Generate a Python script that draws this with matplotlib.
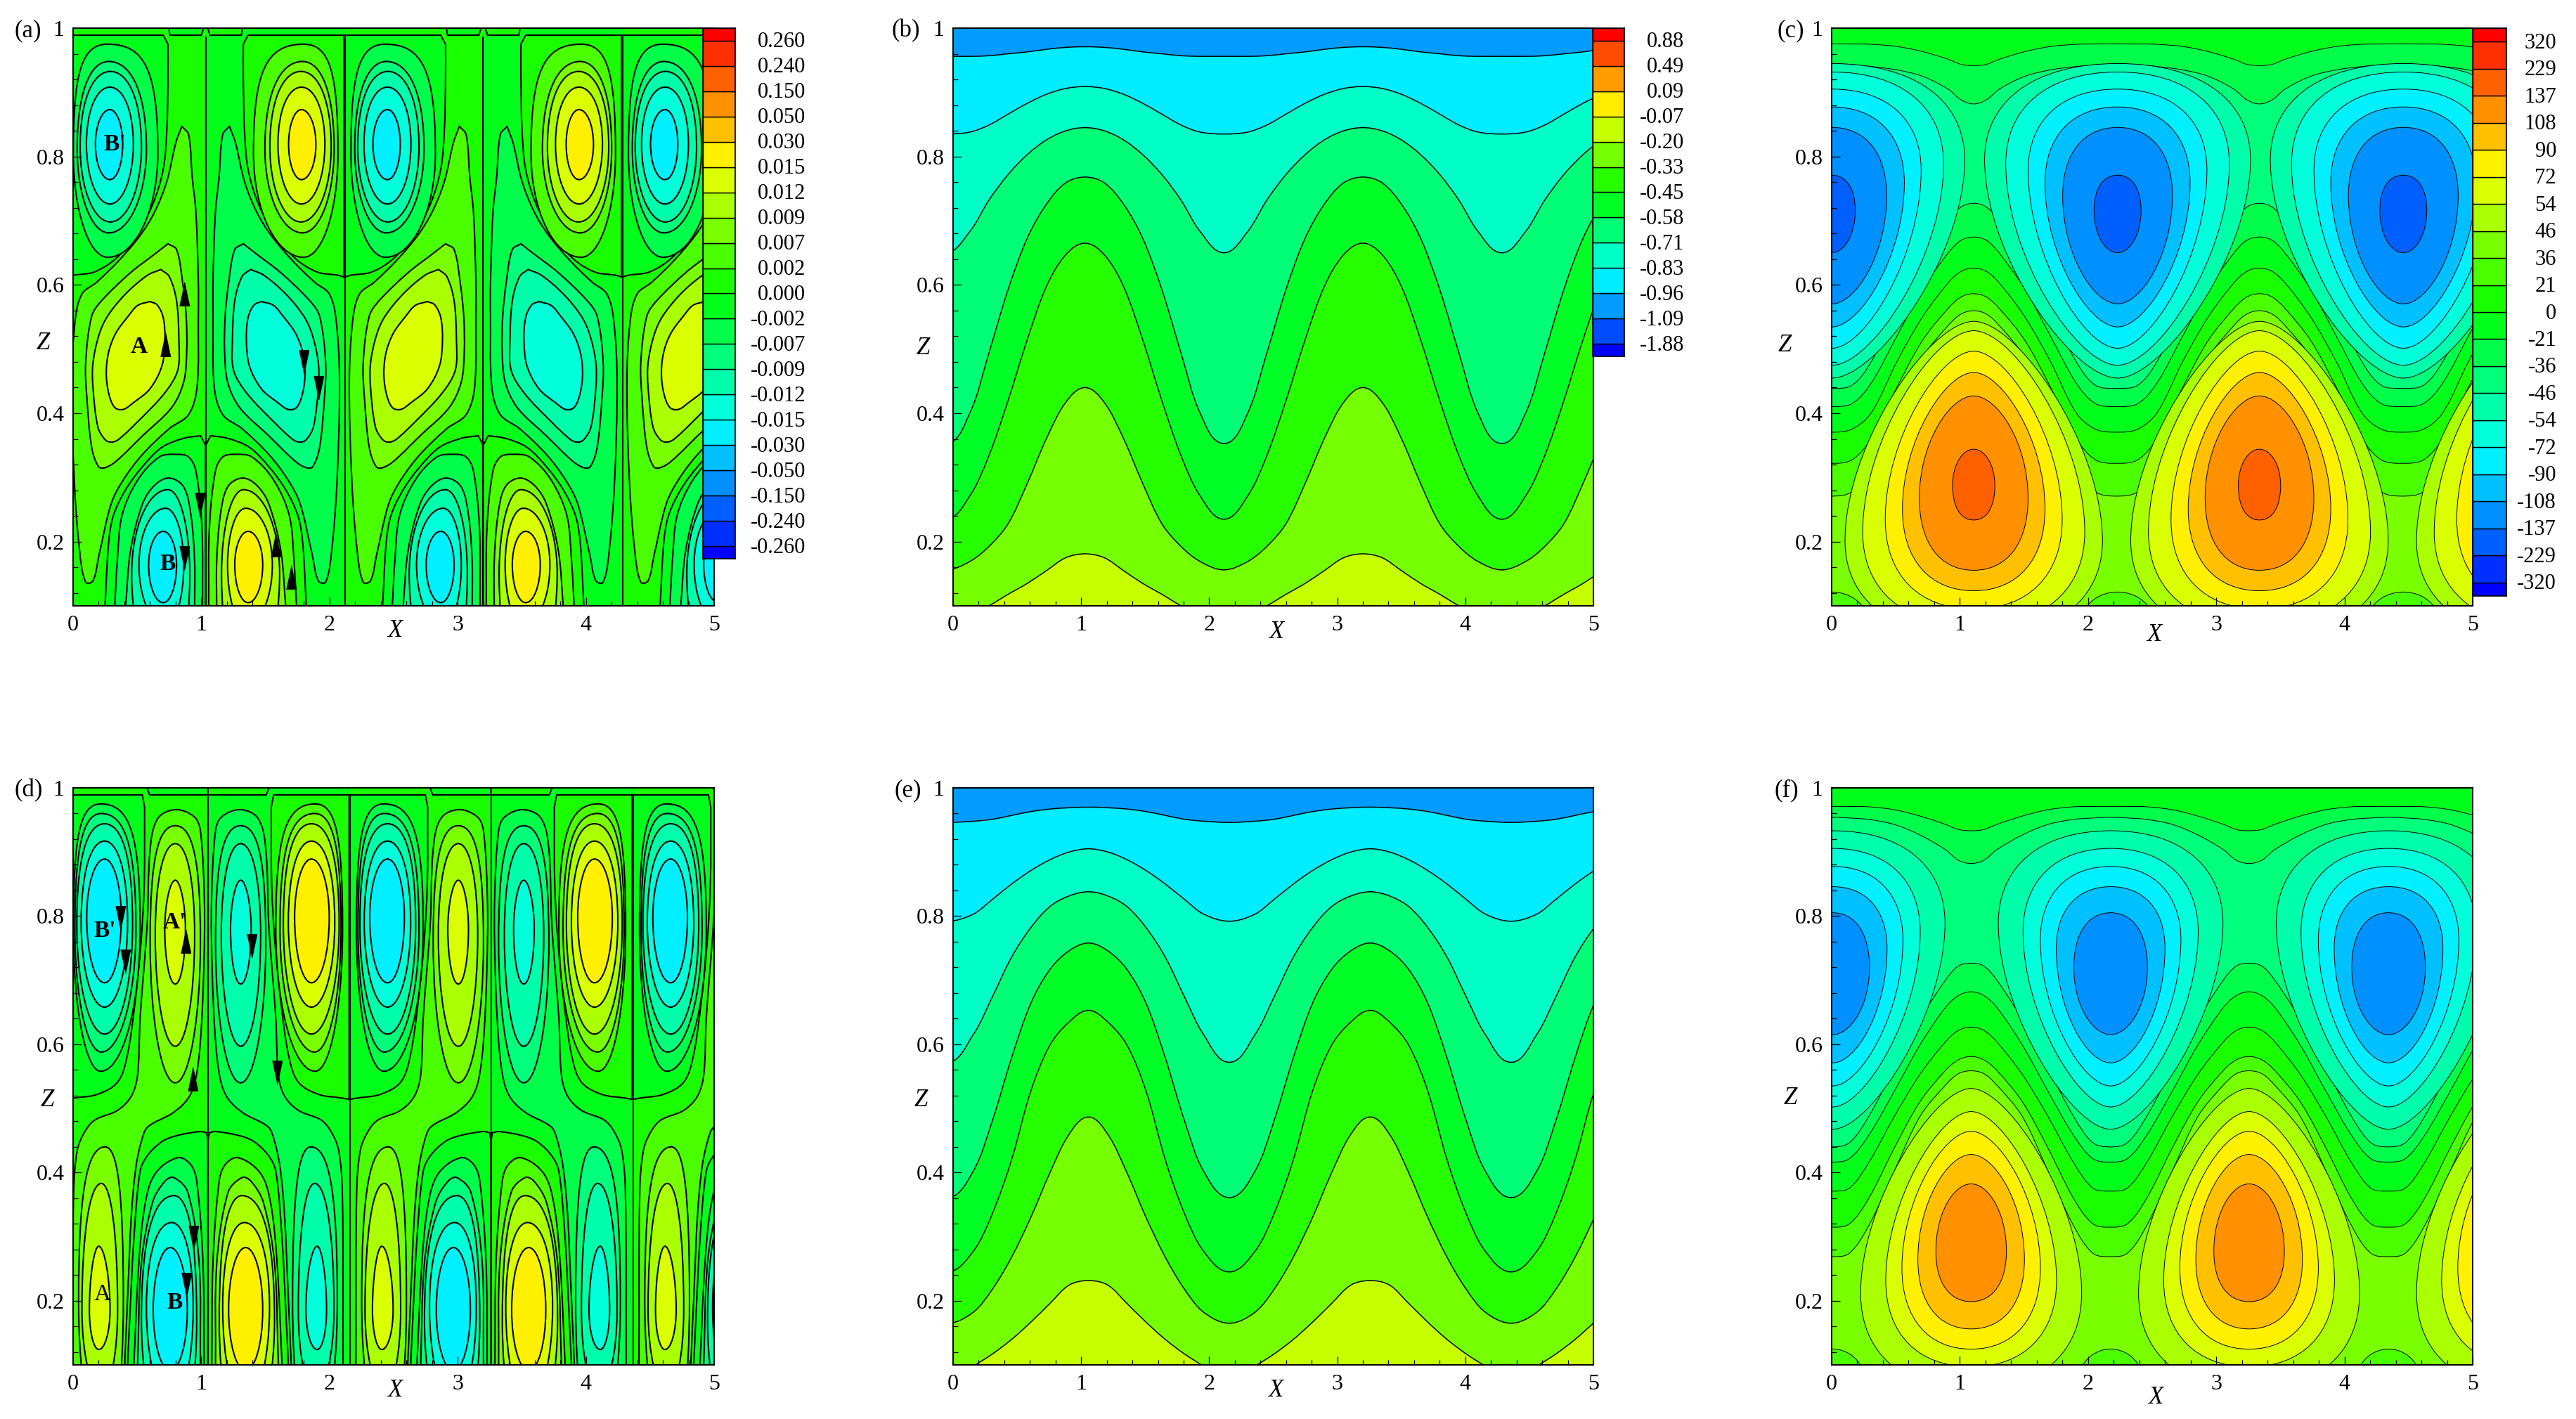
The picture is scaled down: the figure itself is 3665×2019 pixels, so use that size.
import numpy as np
import matplotlib
matplotlib.use("Agg")
import matplotlib.pyplot as plt
from matplotlib.colors import LinearSegmentedColormap
from matplotlib.patches import PathPatch, Rectangle
from matplotlib.path import Path

plt.rcParams['font.family'] = ['Liberation Serif']

W, H = 3665, 2019

# Colorbar labels, top to bottom
a_bar_labels = ['0.260', '0.240', '0.150', '0.050', '0.030', '0.015', '0.012', '0.009', '0.007', '0.002', '0.000',
                '-0.002', '-0.007', '-0.009', '-0.012', '-0.015', '-0.030', '-0.050', '-0.150', '-0.240', '-0.260']
b_bar_labels = ['0.88', '0.49', '0.09', '-0.07', '-0.20', '-0.33', '-0.45', '-0.58', '-0.71', '-0.83', '-0.96',
                '-1.09', '-1.88']
c_bar_labels = ['320', '229', '137', '108', '90', '72', '54', '46', '36', '21', '0', '-21', '-36', '-46', '-54',
                '-72', '-90', '-108', '-137', '-229', '-320']

# --- Panel (a): one cell of the pattern as (x, z).
# The next cell is its mirror image with the colour band flipped.
# Ovals are (band, x centre, left, right, bottom, top, z of widest point).
a_period = 2.165
a_axis = 1.034
a_left_edge = -0.045
a_upper = [(9, .27, .002, .661, .643, .975, .805), (8, .278, .032, .572, .681, .948, .812),
           (7, .29, .055, .533, .698, .9325, .815), (6, .287, .104, .47, .726, .908, .819),
           (5, .287, .174, .387, .764, .873, .819)]
a_upper_box = [.75, .62, .6, .58, .55]
a_shelf = [(-.045, .612), (0, .615), (.164, .62), (.334, .641), (.485, .677), (.618, .724), (.703, .78),
           (.731, .841), (.74, .92), (.74, .975)]
a_shelf_tail = [(.703, .989), (-.045, .989)]
a_strip = [(.74, 1.01), (.755, .989), (1.0, .989), (1.034, 1.01)]
a_spike = [(.848, .847), (.901, .834), (.929, .768), (.958, .713), (.977, .604), (.977, .551), (.967, .441),
           (.901, .398), (.75, .376), (.542, .336), (.391, .296), (.297, .259), (.202, .179), (.155, .139),
           (.098, .137), (.051, .186), (.009, .296), (-.01, .45), (.017, .546), (.07, .586), (.183, .604),
           (.353, .637), (.523, .677), (.637, .714), (.731, .761), (.801, .821)]
a_mid_13 = [(.74, .664), (.807, .655), (.854, .604), (.882, .551), (.886, .496), (.863, .449), (.769, .409),
            (.542, .365), (.334, .325), (.246, .315), (.198, .317), (.145, .347), (.108, .423), (.098, .478),
            (.145, .551), (.221, .575), (.448, .619), (.637, .648)]
a_mid_14 = [(.684, .624), (.75, .613), (.807, .575), (.825, .514), (.816, .467), (.712, .431), (.504, .387),
            (.353, .359), (.297, .355), (.249, .359), (.193, .379), (.155, .441), (.155, .478), (.202, .522),
            (.268, .551), (.41, .586), (.58, .615)]
a_mid_15 = [(.599, .574), (.655, .569), (.703, .549), (.716, .514), (.693, .474), (.599, .438), (.467, .416),
            (.391, .406), (.325, .409), (.278, .431), (.259, .463), (.278, .496), (.334, .525), (.429, .551),
            (.504, .568)]
a_floor = [(.249, .1), (.278, .2), (.315, .241), (.41, .281), (.542, .317), (.693, .347), (.863, .361), (.995, .365)]
a_floor_tail = [(1.034, .35), (1.034, .1)]
a_lower_9 = [(.325, .1), (.345, .17), (.382, .241), (.504, .296), (.674, .332), (.807, .336), (.9, .332),
             (.958, .31), (1.005, .22), (1.01, .1)]
a_lower_8 = [(.41, .1), (.448, .186), (.542, .259), (.637, .288), (.75, .299), (.863, .285), (.92, .24),
             (.948, .168), (.948, .1)]
a_lower = [(7, .74, .457, .91, -.02, .281, .15), (6, .722, .514, .863, .07, .252, .164),
           (5, .703, .589, .807, .105, .216, .164)]

# --- Panel (d), same idea
d_period = 2.208
d_axis = 1.052
d_left_edge = -0.049
d_upper = [(9, .215, .002, .523, .558, .975, .78), (8, .22, .014, .49, .588, .96, .78),
           (7, .245, .029, .464, .616, .944, .787), (6, .245, .063, .425, .658, .917, .79),
           (5, .245, .106, .376, .696, .889, .798)]
d_upper_box = [.75, .7, .65, .6, .55]
d_shelf = [(-.049, .514), (0, .516), (.19, .522), (.347, .541), (.42, .58), (.48, .66), (.53, .76), (.555, .85),
           (.558, .97)]
d_shelf_tail = [(.54, .989), (-.049, .989)]
d_strip = [(.558, 1.01), (.597, .989), (1.052, .989), (1.052, 1.01)]
d_band_12 = [(.402, .1), (.429, .223), (.454, .332), (.488, .406), (.533, .449), (.582, .471), (.778, .493),
             (.895, .515), (.954, .544), (.993, .605), (1.019, .714), (1.024, .824), (.993, .933), (.944, .955),
             (.797, .966), (.66, .952), (.601, .904), (.578, .787), (.523, .641), (.503, .552), (.454, .519),
             (.347, .497), (.17, .482), (.092, .464), (.033, .435), (.004, .369), (-.002, .1)]
d_weak_top = [(13, .797, .601, .993, .54, .941, .76), (14, .797, .641, .948, .597, .913, .77),
              (15, .797, .715, .876, .694, .856, .78)]
d_weak_low = [(13, .25, .043, .392, -.03, .44, .2), (14, .22, .069, .347, .06, .383, .186),
              (15, .2, .127, .288, .124, .285, .186)]
d_weak_box = [.7, .6, .5]
d_floor = [(.425, .1), (.445, .186), (.474, .296), (.523, .402), (.582, .427), (.699, .449), (.817, .458),
           (.993, .464), (1.042, .462)]
d_floor_tail = [(1.052, .45), (1.052, .1)]
d_lower_9 = [(.474, .1), (.513, .259), (.562, .351), (.64, .398), (.813, .423), (.915, .413), (.964, .387),
             (1.013, .259), (1.022, .1)]
d_lower_8 = [(.503, .1), (.533, .259), (.621, .354), (.719, .387), (.787, .392), (.895, .369), (.983, .259),
             (.993, .1)]
d_lower = [(7, .787, .533, .964, -.02, .364, .17), (6, .768, .572, .937, .04, .322, .19),
           (5, .758, .625, .891, .091, .283, .186)]

# --- Panels (b), (e): contour height at distance from a crest, one row per line, lowest first
b_centre, b_period = 1.03, 2.17
b_offsets = [0, .15, .3, .45, .6, .75, .9, 1.085]
b_lines = [[.181, .175, .155, .135, .118, .1, .085, .07],
           [.44, .417, .361, .291, .228, .1925, .169, .156],
           [.665, .647, .598, .515, .42, .334, .271, .235],
           [.768, .759, .726, .673, .593, .494, .4, .353],
           [.845, .84, .826, .803, .772, .732, .683, .65],
           [.909, .906, .897, .883, .866, .849, .838, .835],
           [.971, .97, .967, .963, .96, .957, .956, .956]]
e_centre, e_period = 1.057, 2.2
e_offsets = [0, .15, .3, .45, .6, .75, .9, 1.1]
e_lines = [[.2315, .2246, .196, .1666, .1397, .117, .0977, .07],
           [.4866, .46, .4, .33, .268, .218, .182, .165],
           [.653, .635, .599, .527, .42, .336, .277, .245],
           [.758, .746, .717, .664, .579, .481, .402, .361],
           [.838, .8315, .815, .782, .736, .674, .615, .572],
           [.905, .9, .888, .871, .85, .826, .803, .792],
           [.97, .969, .967, .963, .957, .951, .948, .946]]
layer_bands = [8, 7, 6, 5, 4, 3, 2]

# --- Panels (c), (f): wavy lines (crest at the warm cell) and ovals around the cells
c_warm, c_cold, c_period = 1.108, 2.23, 2.229
c_offsets = [0, .1, .2, .4, .6, .8, .95, 1.1145]
c_chains = [(12, [.5598, .5544, .5365, .4867, .4037, .3141, .2776, .2709]),
            (11, [.5863, .581, .5631, .5133, .4402, .3606, .3274, .322]),
            (10, [.6262, .6208, .6029, .5498, .4801, .4004, .3752, .3705]),
            (9, [.6746, .6693, .6494, .593, .5199, .4469, .415, .4104]),
            (8, [.7271, .7211, .6992, .6394, .5598, .4801, .4436, .4389]),
            (9, [.8818, .8884, .905, .925, .9349, .9402, .9425, .9436]),
            (10, [.9416, .9436, .9515, .9635, .9714, .9748, .9752, .9754])]
# (band, half width, bottom, top, z of widest point), outer ring first
c_cold_ovals = [(7, 1.037, .4548, .9448, .795), (6, .872, .4748, .9316, .7888), (5, .697, .5013, .905, .7789),
                (4, .566, .5345, .8772, .759), (3, .428, .5704, .8453, .739), (2, .183, .6501, .7709, .7158)]
c_warm_ovals = [(14, 1.004, .05, .5432, .2012), (15, .866, .068, .5286, .2145), (16, .69, .095, .4967, .2344),
                (17, .556, .1235, .4635, .251), (18, .424, .1554, .427, .2676), (19, .165, .2337, .344, .2875)]
c_dome = (12, .28, .04, .1215, .075)
c_tip_round = [.44, .46, .48, .5, .54, .6]

f_warm, f_cold, f_period = 1.088, 2.176, 2.168
f_offsets = [0, .1, .2, .4, .6, .8, .95, 1.084]
f_chains = [(12, [.5587, .5541, .5364, .4872, .402, .3167, .2741, .2689]),
            (11, [.581, .5757, .5593, .5102, .438, .3593, .32, .3148]),
            (10, [.6269, .6216, .6039, .5528, .4872, .4151, .3757, .3711]),
            (9, [.682, .676, .6577, .5987, .5266, .4577, .4216, .4164]),
            (8, [.7266, .722, .7003, .638, .5626, .4872, .4465, .44]),
            (9, [.882, .8872, .9036, .9266, .943, .9508, .953, .9541]),
            (10, [.9331, .9351, .943, .9561, .9659, .9705, .971, .9711])]
f_cold_ovals = [(7, .876, .4675, .9331, .7889), (6, .683, .5023, .9056, .7757), (5, .548, .5351, .8774, .7626),
                (4, .424, .5711, .8459, .7495), (3, .287, .6151, .8052, .72)]
f_warm_ovals = [(14, .862, .061, .5311, .2118), (15, .666, .097, .4951, .2315), (16, .54, .1246, .4643, .2511),
                (17, .4156, .1561, .4282, .2643), (18, .275, .1987, .3823, .2774)]
f_dome = (12, .25, .04, .1246, .075)
f_tip_round = [.44, .47, .5, .54, .58]

# Flow arrows and cell names
a_arrows_up = ([.868, .717, 1.577, 1.699], [.586, .507, .195, .145])
a_arrows_down = ([1.8, 1.913, .986, .868], [.48, .439, .258, .175])
a_names = [('B\'', .323, .819, 'bold'), ('A', .512, .503, 'bold'), ('B', .738, .165, 'bold')]
d_arrows_up = ([.877, .931], [.761, .546])
d_arrows_down = ([.365, .403, 1.393, 1.59, .94, .885], [.797, .729, .753, .556, .298, .225])
d_names = [('B\'', .247, .777, 'bold'), ('A\'', .793, .79, 'bold'), ('A', .227, .21, 'normal'), ('B', .793, .197, 'bold')]

rainbow = LinearSegmentedColormap.from_list('rainbow5', ['#0000ff', '#00ffff', '#00ff00', '#ffff00', '#ff0000'])


def band_color(band, n=22):
    return rainbow(band / (n - 1))


def curve_verts(points):
    # smooth curve through all the read points, as cubic segments for Path
    p = np.array(points, dtype=float)
    q = p * [1, 5]  # x and z have different scales on the page
    tang = np.gradient(q, axis=0)
    tang[1:-1] = q[2:] - q[:-2]
    tang /= np.maximum(np.linalg.norm(tang, axis=1, keepdims=True), 1e-9)
    verts = [tuple(p[0])]
    for i in range(len(p) - 1):
        d = np.linalg.norm(q[i + 1] - q[i]) / 3
        verts.append(tuple((q[i] + tang[i] * d) / [1, 5]))
        verts.append(tuple((q[i + 1] - tang[i + 1] * d) / [1, 5]))
        verts.append(tuple(p[i + 1]))
    return verts


def open_region(points, tail=()):
    verts = curve_verts(points)
    codes = [Path.MOVETO] + [Path.CURVE4] * (len(verts) - 1)
    for t in tail:
        verts.append(tuple(t))
        codes.append(Path.LINETO)
    verts.append(verts[0])
    codes.append(Path.CLOSEPOLY)
    return Path(verts, codes)


def closed_loop(points):
    return open_region(list(points) + [points[0]])


def oval(xc, left, right, bottom, top, zw, top_k=(.55, .55), bottom_k=(.55, .55)):
    tv, th = top_k
    bv, bh = bottom_k
    verts = [(right, zw),
             (right, zw + tv * (top - zw)), (xc + th * (right - xc), top), (xc, top),
             (xc - th * (xc - left), top), (left, zw + tv * (top - zw)), (left, zw),
             (left, zw - bv * (zw - bottom)), (xc - bh * (xc - left), bottom), (xc, bottom),
             (xc + bh * (right - xc), bottom), (right, zw - bv * (zw - bottom)), (right, zw),
             (right, zw)]
    codes = [Path.MOVETO] + [Path.CURVE4] * 12 + [Path.CLOSEPOLY]
    return Path(verts, codes)


def add_shape(ax, path, band, lw, n=22, edge='black'):
    ax.add_patch(PathPatch(path, facecolor=band_color(band, n), edgecolor=edge, lw=lw, joinstyle='round', zorder=1))


def moved(path, shift=0.0, mirror=None):
    v = np.array(path.vertices)
    if mirror is not None:
        v[:, 0] = 2 * mirror - v[:, 0]
    v[:, 0] += shift
    return Path(v, path.codes)


def draw_cells(ax, layers, axis, left_edge, period, lw):
    # layers: (band, path) for the left cell, painted in order
    for k in range(-1, 4):
        shift = k * period
        for mirror in (None, axis):
            sign_flip = mirror is not None
            x0, x1 = left_edge, axis
            if sign_flip:
                x0, x1 = axis, left_edge + period
            ax.add_patch(Rectangle((x0 + shift, .05), x1 - x0, 1.1, facecolor=band_color(10 if sign_flip else 11),
                                   edgecolor='none', zorder=1))
            for band, path in layers:
                add_shape(ax, moved(path, shift, mirror), 21 - band if sign_flip else band, lw)
    for k in range(-1, 4):
        for x in (axis, left_edge + period):
            ax.plot([x + k * period] * 2, [.05, .987], color='black', lw=lw, zorder=1, solid_capstyle='butt')


def cell_layers_from(ovals, boxes=None, **kw):
    out = []
    for j, o in enumerate(ovals):
        k = boxes[j] if boxes is not None else .55
        out.append((o[0], oval(*o[1:], top_k=(k, k), **kw)))
    return out


def chain_points(offsets, heights, centre, period):
    pts = []
    for k in range(-2, 5):
        c = centre + k * period
        pts += [(c - o, z) for o, z in zip(offsets[::-1], heights[::-1])]
        pts += [(c + o, z) for o, z in zip(offsets[1:-1], heights[1:-1])]
    return pts


def draw_chain(ax, offsets, heights, band, centre, period, lw, n):
    pts = chain_points(offsets, heights, centre, period)
    tail = [(pts[-1][0], 1.3), (pts[0][0], 1.3)]
    add_shape(ax, open_region(pts, tail), band, lw, n)


def px_axes(fig, left, top, right, bottom):
    return fig.add_axes([left / W, 1 - bottom / H, (right - left) / W, (bottom - top) / H])


def setup_axes(ax, base_band=None, n=22):
    ax.set_xlim(0, 5)
    ax.set_ylim(.1, 1)
    if base_band is not None:
        ax.set_facecolor(band_color(base_band, n))
    ax.set_xticks([0, 1, 2, 3, 4, 5])
    ax.set_xticklabels(['0', '1', '2', '3', '4', '5'])
    ax.set_xticks(np.arange(0, 5.01, .2), minor=True)
    ax.set_yticks([.2, .4, .6, .8, 1])
    ax.set_yticklabels(['0.2', '0.4', '0.6', '0.8', '1'])
    ax.set_yticks(np.arange(.12, 1.0, .04), minor=True)
    ax.tick_params(which='major', direction='in', length=8.6, width=.9, labelsize=23, pad=9)
    ax.tick_params(which='minor', direction='in', length=5, width=.9)
    ax.tick_params(axis='x', which='both', top=False)
    ax.tick_params(axis='y', which='both', right=False)
    for s in ax.spines.values():
        s.set_linewidth(1.4)
        s.set_zorder(5)


def draw_colorbar(fig, left, top, right, bottom, labels, label_x):
    n = len(labels) + 1
    cax = px_axes(fig, left, top, right, bottom)
    edges = np.r_[0, np.arange(n - 1) + .5, n - 1]
    cax.barh((edges[:-1] + edges[1:]) / 2, 1, np.diff(edges), color=[band_color(i, n) for i in range(n)],
             edgecolor='black', linewidth=1)
    cax.set_xlim(0, 1)
    cax.set_ylim(0, n - 1)
    cax.set_xticks([])
    cax.set_yticks([])
    for s in cax.spines.values():
        s.set_linewidth(1.2)
    step = (bottom - top) / (n - 1)
    for i, lab in enumerate(labels):
        fig.text(label_x / W, 1 - (top + step * (i + .5) + 2) / H, lab, ha='right', va='center', fontsize=22)


def draw_arrows(ax, up, down):
    ax.plot(up[0], up[1], ls='none', marker=[(-.42, -1), (.42, -1), (0, 1)], ms=24, color='black', zorder=3)
    ax.plot(down[0], down[1], ls='none', marker=[(-.42, 1), (.42, 1), (0, -1)], ms=24, color='black', zorder=3)


def draw_names(ax, names):
    for name, x, z, weight in names:
        ax.text(x, z, name, ha='center', va='center', fontsize=24, fontweight=weight, zorder=3)


def draw_layered(ax, offsets, lines, centre, period):
    for band, line in zip(layer_bands, lines):
        draw_chain(ax, offsets, line, band, centre, period, 1.1, 14)


def draw_temperature(ax, offsets, chains, warm, cold, period, cold_ovals, warm_ovals, dome, round_tips):
    for band, heights in chains:
        draw_chain(ax, offsets, heights, band, warm, period, .7, 22)
    for k in range(-1, 4):
        for j, (band, hw, bottom, top, zw) in enumerate(cold_ovals):
            xc = cold + k * period
            tip = (round_tips[j], round_tips[j] - .1)
            add_shape(ax, oval(xc, xc - hw, xc + hw, bottom, top, zw, (.62, .62), tip), band, .7)
        for j, (band, hw, bottom, top, zw) in enumerate(warm_ovals):
            xc = warm + k * period
            tip = (round_tips[j], round_tips[j] - .1)
            add_shape(ax, oval(xc, xc - hw, xc + hw, bottom, top, zw, tip, (.62, .62)), band, .7)
        band, hw, bottom, top, zw = dome
        xc = cold + k * period
        add_shape(ax, oval(xc, xc - hw, xc + hw, bottom, top, zw), band, .7)


fig = plt.figure(figsize=(W / 100, H / 100), dpi=100)

TOP_ROW = (40, 862)
LOW_ROW = (1121, 1942)
COLS = [(104, 1016), (1356, 2267), (2606, 3518)]


def make_panel(col, row, base=None, n=22):
    ax = px_axes(fig, COLS[col][0], row[0], COLS[col][1], row[1])
    setup_axes(ax, base, n)
    return ax


# (a)
ax = make_panel(0, TOP_ROW)
layers = [(10, Path(a_strip))]
layers += [(10, open_region(a_shelf, a_shelf_tail))]
layers += cell_layers_from(a_upper, a_upper_box)
layers += [(12, closed_loop(a_spike)), (13, closed_loop(a_mid_13)), (14, closed_loop(a_mid_14)),
           (15, closed_loop(a_mid_15))]
layers += [(10, open_region(a_floor, a_floor_tail)), (9, open_region(a_lower_9)), (8, open_region(a_lower_8))]
layers += cell_layers_from(a_lower)
draw_cells(ax, layers, a_axis, a_left_edge, a_period, 1.5)
draw_arrows(ax, a_arrows_up, a_arrows_down)
draw_names(ax, a_names)
draw_colorbar(fig, 1000, 40, 1046, 795, a_bar_labels, 1146)

# (b)
ax = make_panel(1, TOP_ROW, 9, 14)
draw_layered(ax, b_offsets, b_lines, b_centre, b_period)
draw_colorbar(fig, 2266, 40, 2311, 507, b_bar_labels, 2396)

# (c)
ax = make_panel(2, TOP_ROW, 13)
draw_temperature(ax, c_offsets, c_chains, c_warm, c_cold, c_period, c_cold_ovals, c_warm_ovals, c_dome, c_tip_round)
draw_colorbar(fig, 3518, 40, 3566, 848, c_bar_labels, 3637)

# (d)
ax = make_panel(0, LOW_ROW)
layers = [(10, Path(d_strip))]
layers += [(10, open_region(d_shelf, d_shelf_tail))]
layers += cell_layers_from(d_upper, d_upper_box)
layers += [(12, open_region(d_band_12))]
layers += cell_layers_from(d_weak_top, d_weak_box)
layers += cell_layers_from(d_weak_low, d_weak_box)
layers += [(10, open_region(d_floor, d_floor_tail)), (9, open_region(d_lower_9)), (8, open_region(d_lower_8))]
layers += cell_layers_from(d_lower, [.65, .6, .55])
draw_cells(ax, layers, d_axis, d_left_edge, d_period, 1.5)
draw_arrows(ax, d_arrows_up, d_arrows_down)
draw_names(ax, d_names)

# (e)
ax = make_panel(1, LOW_ROW, 9, 14)
draw_layered(ax, e_offsets, e_lines, e_centre, e_period)

# (f)
ax = make_panel(2, LOW_ROW, 13)
draw_temperature(ax, f_offsets, f_chains, f_warm, f_cold, f_period, f_cold_ovals, f_warm_ovals, f_dome, f_tip_round)

# Panel letters and axis names, placed in page pixels
letters = [('(a)', 21, 44), ('(b)', 1268, 44), ('(c)', 2528, 44), ('(d)', 21, 1125), ('(e)', 1273, 1125), ('(f)', 2525, 1125)]
for s, px, py in letters:
    fig.text(px / W, 1 - py / H, s, ha='left', va='center', fontsize=25)
x_names = [(562, 897), (1816, 900), (3065, 904), (562, 1978), (1815, 1978), (3067, 1988)]
z_names = [(61, 488), (1313, 496), (2539, 492), (67, 1565), (1310, 1565), (2547, 1562)]
for px, py in x_names:
    fig.text(px / W, 1 - py / H, 'X', ha='center', va='center', fontsize=25, style='italic')
for px, py in z_names:
    fig.text(px / W, 1 - py / H, 'Z', ha='center', va='center', fontsize=25, style='italic')

fig.savefig('out.png', dpi=100)
